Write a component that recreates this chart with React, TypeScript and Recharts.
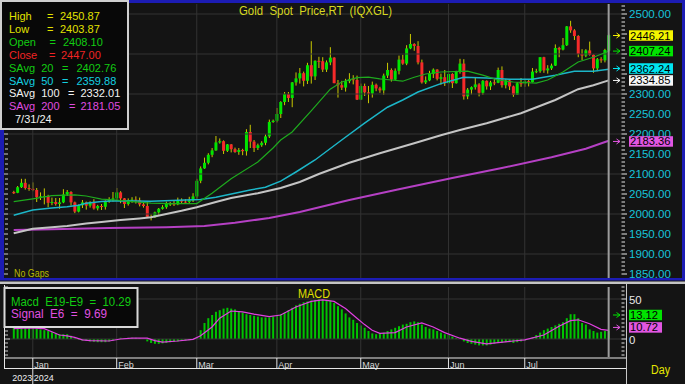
import React from 'react';
import { ComposedChart, Bar, Line, XAxis, YAxis, ReferenceLine, ReferenceDot } from 'recharts';

// trading days shown per month (tail of Dec 2023, then Jan..Jul 2024)
const months = ['Dec', 'Jan', 'Feb', 'Mar', 'Apr', 'May', 'Jun', 'Jul'];
const barsPerMonth = [5, 22, 21, 21, 22, 23, 20, 23];

const open = [
  2055, 2053, 2067, 2078, 2065,
  2063, 2060, 2042, 2044, 2045, 2028, 2030, 2025, 2029, 2049, 2055, 2029, 2006, 2022, 2029, 2021, 2029, 2014, 2020, 2018, 2032, 2037,
  2039, 2054, 2039, 2025, 2035, 2036, 2034, 2024, 2020, 1993, 1992, 2004, 2013, 2017, 2025, 2026, 2024, 2035, 2031, 2030, 2034,
  2044, 2083, 2114, 2128, 2148, 2159, 2179, 2182, 2158, 2174, 2162, 2155, 2160, 2157, 2205, 2181, 2165, 2172, 2178, 2194, 2230,
  2233, 2250, 2280, 2300, 2290, 2329, 2339, 2352, 2333, 2372, 2344, 2383, 2382, 2361, 2379, 2391, 2327, 2322, 2316, 2332, 2337, 2335,
  2286, 2320, 2304, 2301, 2323, 2314, 2309, 2346, 2360, 2336, 2358, 2386, 2376, 2414, 2425, 2420, 2379, 2329, 2334, 2350, 2361, 2338, 2342,
  2327, 2350, 2327, 2355, 2376, 2294, 2311, 2317, 2324, 2303, 2333, 2319, 2329, 2328, 2360, 2322, 2334, 2319, 2298, 2327,
  2326, 2332, 2330, 2356, 2357, 2392, 2359, 2364, 2371, 2415, 2411, 2422, 2469, 2459, 2445, 2400, 2396, 2409, 2398, 2364, 2387, 2384, 2408.1,
];
const high = [
  2058, 2070, 2088, 2088, 2074,
  2079, 2065, 2054, 2064, 2048, 2041, 2040, 2040, 2062, 2060, 2057, 2031, 2024, 2035, 2031, 2032, 2037, 2023, 2025, 2034, 2042, 2055,
  2065, 2057, 2040, 2039, 2042, 2044, 2041, 2030, 2031, 1999, 2006, 2015, 2022, 2031, 2030, 2035, 2041, 2039, 2037, 2043, 2052,
  2088, 2119, 2141, 2152, 2165, 2195, 2189, 2184, 2175, 2175, 2166, 2165, 2163, 2212, 2223, 2185, 2176, 2182, 2199, 2236, 2236,
  2265, 2282, 2305, 2305, 2330, 2354, 2365, 2356, 2378, 2432, 2384, 2393, 2392, 2384, 2417, 2392, 2335, 2333, 2338, 2352, 2347, 2346,
  2326, 2326, 2320, 2331, 2326, 2318, 2351, 2378, 2364, 2364, 2396, 2398, 2422, 2450, 2427, 2432, 2386, 2344, 2358, 2364, 2362, 2351, 2360,
  2354, 2352, 2358, 2388, 2387, 2315, 2319, 2342, 2327, 2335, 2334, 2333, 2337, 2366, 2369, 2337, 2335, 2321, 2330, 2340,
  2338, 2335, 2365, 2363, 2392, 2393, 2372, 2376, 2424, 2418, 2440, 2470, 2483, 2462, 2447, 2412, 2412, 2431, 2399, 2390, 2392, 2413, 2450.87,
];
const low = [
  2050, 2052, 2065, 2061, 2058,
  2057, 2030, 2035, 2024, 2017, 2022, 2021, 2013, 2027, 2045, 2021, 2002, 2004, 2015, 2011, 2016, 2011, 2009, 2010, 2011, 2028, 2031,
  2035, 2027, 2015, 2021, 2028, 2026, 2019, 2016, 1990, 1984, 1990, 1995, 2011, 2013, 2020, 2020, 2022, 2025, 2025, 2026, 2030,
  2038, 2077, 2113, 2124, 2142, 2158, 2176, 2150, 2155, 2154, 2153, 2148, 2147, 2146, 2165, 2155, 2160, 2168, 2172, 2190, 2228,
  2229, 2240, 2272, 2280, 2267, 2321, 2326, 2319, 2325, 2326, 2335, 2365, 2355, 2355, 2372, 2327, 2291, 2310, 2306, 2327, 2324, 2285,
  2285, 2295, 2277, 2291, 2307, 2303, 2298, 2340, 2331, 2335, 2349, 2373, 2372, 2412, 2408, 2374, 2326, 2325, 2332, 2340, 2334, 2323, 2320,
  2314, 2315, 2326, 2351, 2286, 2287, 2299, 2311, 2294, 2298, 2311, 2310, 2322, 2327, 2316, 2314, 2310, 2293, 2298, 2318,
  2318, 2319, 2329, 2352, 2353, 2353, 2351, 2360, 2370, 2392, 2409, 2420, 2453, 2435, 2392, 2385, 2392, 2396, 2353, 2357, 2378, 2379, 2403.87,
];
const close = [
  2052, 2067, 2078, 2065, 2063,
  2060, 2042, 2044, 2045, 2028, 2030, 2025, 2029, 2049, 2055, 2029, 2006, 2022, 2029, 2021, 2029, 2014, 2020, 2018, 2032, 2037, 2039,
  2054, 2039, 2025, 2035, 2036, 2034, 2024, 2020, 1993, 1992, 2004, 2013, 2017, 2025, 2026, 2024, 2035, 2031, 2030, 2034, 2044,
  2083, 2114, 2128, 2148, 2159, 2179, 2182, 2158, 2174, 2162, 2155, 2160, 2157, 2205, 2181, 2165, 2172, 2178, 2194, 2230, 2233,
  2250, 2280, 2300, 2290, 2329, 2339, 2352, 2333, 2372, 2344, 2383, 2382, 2361, 2379, 2391, 2327, 2322, 2316, 2332, 2337, 2335, 2286,
  2320, 2304, 2301, 2323, 2314, 2309, 2346, 2360, 2336, 2358, 2386, 2376, 2414, 2425, 2420, 2379, 2329, 2334, 2350, 2361, 2338, 2342, 2327,
  2350, 2327, 2355, 2376, 2294, 2311, 2317, 2324, 2303, 2333, 2319, 2329, 2328, 2360, 2322, 2334, 2319, 2298, 2327, 2326,
  2332, 2330, 2356, 2357, 2392, 2359, 2364, 2371, 2415, 2411, 2422, 2469, 2459, 2445, 2400, 2396, 2409, 2398, 2364, 2387, 2384, 2410, 2447,
];

// moving averages as [bar, value]
const sma20: [number, number][] = [
  [0, 2031], [5, 2038], [10, 2046], [16, 2048], [19, 2045], [23, 2037], [27, 2035], [31, 2031], [36, 2027], [41, 2026],
  [48, 2026], [52, 2052], [57, 2088], [64, 2130], [68, 2165], [70, 2185], [73, 2205], [78, 2258], [83, 2312], [86, 2330],
  [90, 2341], [93, 2342], [96, 2338], [99, 2335], [102, 2332], [105, 2342], [108, 2350], [112, 2355], [119, 2357], [123, 2347],
  [127, 2335], [131, 2330], [137, 2327], [140, 2335], [144, 2355], [148, 2380], [152, 2392], [156, 2407],
];
const sma50: [number, number][] = [
  [0, 1997], [5, 2010], [10, 2015], [14, 2018], [17, 2022], [19, 2027], [23, 2031], [27, 2033], [36, 2032], [45, 2035],
  [49, 2036], [53, 2042], [58, 2052], [62, 2060], [66, 2067], [70, 2082], [74, 2105], [79, 2135], [86, 2185], [92, 2227],
  [98, 2267], [102, 2285], [106, 2305], [112, 2326], [118, 2342], [124, 2340], [130, 2337], [136, 2337], [142, 2347],
  [147, 2357], [152, 2357], [156, 2362],
];
const sma100: [number, number][] = [
  [0, 1952], [5, 1963], [10, 1967], [14, 1970], [19, 1976], [23, 1980], [28, 1985], [33, 1989], [36, 1992], [40, 2000],
  [44, 2008], [48, 2017], [53, 2030], [57, 2040], [64, 2052], [70, 2065], [75, 2080], [80, 2100], [88, 2128], [96, 2152],
  [105, 2177], [112, 2197], [117, 2210], [124, 2227], [133, 2252], [142, 2285], [148, 2312], [152, 2322], [156, 2334],
];
const sma200: [number, number][] = [
  [0, 1960], [10, 1962], [25, 1965], [40, 1967], [50, 1970], [58, 1978], [67, 1990], [75, 2005], [88, 2035], [101, 2062],
  [115, 2090], [128, 2115], [141, 2142], [150, 2163], [156, 2183],
];

const macd = [
  14, 14.5, 15, 15.5, 15, 14.5, 13, 12, 11,
  10, 8.5, 7, 6, 6, 6, 4, 1, -1,
  -2, -2.5, -3, -3.5, -4, -4, -4, -3, -2, 0,
  1.5, 1, 1.5, 1.5, 1.5, 1, 0, -3,
  -5, -6, -6, -5.5, -5, -4, -3.5, -3, -2.5, -2, -1.5, -1, 2,
  11, 20, 26, 30, 34, 36, 38, 39, 38,
  37, 35, 33, 31, 30, 29, 28, 27, 27, 27, 28, 29, 31,
  33, 36, 39, 42, 44, 46, 47, 48, 49, 50, 50, 49, 48,
  45, 41, 37, 32, 27, 24, 20, 17, 14, 10, 7, 6, 7, 8,
  10, 12, 14, 16, 18, 19, 21, 22, 21, 18,
  15, 13, 12, 10, 8, 6, 5, 3, 1, 0,
  -3, -5, -6, -7, -8, -8, -8, -7, -6, -5, -5, -4, -4, -5, -4, -3, -2,
  0, 2, 5, 8, 11, 13, 15, 17, 19, 21, 26, 31, 31, 26, 20, 18, 12, 10, 8, 9, 10, 10.3,
];
const signal: [number, number][] = [
  [0, 13], [4, 14], [8, 13], [10, 9], [12, 5], [14, 4], [16, 2], [18, -1], [20, -2], [25, -2.5], [28, 0], [31, 1], [35, 1],
  [37, -2], [39, -4], [43, -2.5], [47, -0.5], [49, 4], [52, 15], [54, 26], [57, 35], [60, 34], [63, 31], [67, 28], [70, 30],
  [74, 40], [78, 47], [81, 49], [84, 47], [87, 38], [90, 26], [92, 18], [94, 11], [96, 7], [100, 8], [103, 15], [107, 20],
  [110, 15], [113, 8], [117, 1], [120, -3], [124, -6], [127, -4.5], [131, -2.5], [134, -1], [139, 5], [143, 16], [146, 23],
  [148, 24], [151, 19], [154, 12], [156, 10.7],
];

const priceLabels = [1850, 1900, 1950, 2000, 2050, 2100, 2150, 2200, 2250, 2300, 2350, 2400, 2450, 2500];
const coveredLabels = [2350, 2400, 2450];
const gridPrices = [1900, 2000, 2100, 2200, 2300, 2400, 2500];
const lastTags = [2446.21, 2407.24, 2362.24, 2334.85, 2183.36];
const lastTagColors = ['#f4f400', '#00e400', '#00e4f0', '#f6f6f6', '#e256e2'];
const lastTagShift = [0, 0, -0.6, 0.4, 0.8];
const macdTags = [13.12, 10.72];
const macdTagColors = ['#00e400', '#e256e2'];
const macdTagShift = [-13.5, -3];

const readoutNames = ['High', 'Low', 'Open', 'Close', 'SAvg  20', 'SAvg  50', 'SAvg  100', 'SAvg  200'];
const readoutValues = [2450.87, 2403.87, 2408.1, 2447.0, 2402.76, 2359.88, 2332.01, 2181.05];
const readoutDate = '7/31/24';
const readoutColors = ['#e2e200', '#e2e200', '#12cc12', '#f02424', '#12cc12', '#14cfe0', '#f2f2f2', '#e04ce0'];
const readoutEqX = [47, 47, 49.5, 49, 62, 62, 68, 69];
const readoutValX = [60, 60, 63, 61, 76.5, 76.5, 80.5, 80.5];
const macdReadout = ['Macd  E19-E9  =  10.29', 'Signal  E6  =  9.69'];

// ---- build rows (one empty slot before, three after) ----
const rows: any[] = [{ key: 'pad-a' }];
const monthStarts: { key: string; label: string }[] = [];
let n = 0;
months.forEach((m, mi) => {
  for (let d = 0; d < barsPerMonth[mi]; d++) {
    const key = `${m}-${d}`;
    if (d === 0 && mi > 0) monthStarts.push({ key, label: m });
    rows.push({
      key, open: open[n], high: high[n], low: low[n], close: close[n],
      range: [low[n], high[n]], macd: macd[n],
    });
    n++;
  }
});
rows.push({ key: 'pad-b' }, { key: 'pad-c' }, { key: 'pad-d' });
const put = (pts: [number, number][], name: string) => pts.forEach(([i, v]) => { rows[i + 1][name] = v; });
put(sma20, 'sma20');
put(sma50, 'sma50');
put(sma100, 'sma100');
put(sma200, 'sma200');
put(signal, 'signal');
const lastKey = rows[n].key;

const minorPrice: number[] = [];
for (let v = 1850; v <= 2520; v += 10) minorPrice.push(v);
const leftPrice: number[] = [];
for (let v = 1850; v <= 2525; v += 12.5) leftPrice.push(v);
const macdTicks: number[] = [];
for (let v = -20; v <= 65; v += 5) macdTicks.push(v);

const FONT = "'Liberation Sans', Arial, sans-serif";
const PRICE_DOMAIN: [number, number] = [1840, 2525];
const MACD_DOMAIN: [number, number] = [-22.5, 65];

const Candle = (p: any) => {
  const d = p.payload;
  if (!d || d.open == null) return <g />;
  const top = Math.min(p.y, p.y + p.height);
  const h = Math.abs(p.height);
  const k = h / (d.high - d.low || 1);
  const cx = p.x + p.width / 2;
  const yo = top + (d.high - d.open) * k;
  const yc = top + (d.high - d.close) * k;
  const up = d.close >= d.open;
  return (
    <g>
      <line x1={cx} x2={cx} y1={top} y2={top + h} stroke="#c9c900" />
      <rect x={cx - 1.5} y={Math.min(yo, yc)} width={3} height={Math.max(1, Math.abs(yc - yo))}
        fill={up ? '#00e600' : '#f52a2a'} />
    </g>
  );
};

const PriceTick = (p: any) => {
  const v = p.payload.value;
  const major = v % 50 === 0;
  return (
    <g>
      <line x1={621.5} x2={major ? 627 : 625} y1={p.y} y2={p.y} stroke="#e6e6e6" />
      {major && priceLabels.includes(v) && !coveredLabels.includes(v) && (
        <text x={629} y={p.y + 4.2} fill="#17c3d9" fontSize={11.6} fontFamily={FONT}>{v.toFixed(2)}</text>
      )}
    </g>
  );
};

const LeftTick = (p: any) => {
  const major = p.payload.value % 50 === 0;
  return <line x1={major ? 4 : 5} x2={8} y1={p.y} y2={p.y} stroke="#d0d0d0" />;
};

const MacdTick = (p: any) => {
  const v = p.payload.value;
  const lab = v === 0 || v === 50;
  return (
    <g>
      <line x1={621.5} x2={lab ? 626 : 624.5} y1={p.y} y2={p.y} stroke="#e6e6e6" />
      {lab && <text x={629} y={p.y + 4.6} fontSize={11.4} fill="#e8e8e8" fontFamily={FONT}>{v}</text>}
    </g>
  );
};

const MacdLeftTick = (p: any) => {
  const major = p.payload.value % 25 === 0;
  return <line x1={5} x2={major ? 10 : 8} y1={p.y} y2={p.y} stroke="#d0d0d0" />;
};

const MonthTick = (p: any) => {
  const m = monthStarts.find((s) => s.key === p.payload.value);
  if (!m) return <g />;
  const x = p.x;
  const first = m.label === 'Jan';
  return (
    <g fontFamily={FONT}>
      <line x1={x} x2={x} y1={78} y2={first ? 104 : 88.5} stroke="#e4e4e4" />
      <text x={x + 1.5} y={87.5} fontSize={9} fill="#d6d6d6">{m.label}</text>
      {first && <text x={x - 0.5} y={100.5} fontSize={9} fill="#f0f0f0" textAnchor="end">2023</text>}
      {first && <text x={x + 1} y={100.5} fontSize={9} fill="#f0f0f0">2024</text>}
    </g>
  );
};

const Tag = ({ cy, color, text, w }: any) => (
  <g fontFamily={FONT}>
    <line x1={613} x2={620} y1={cy} y2={cy} stroke={color} />
    <path d={`M616.5,${cy - 2.5} L620,${cy} L616.5,${cy + 2.5}`} fill="none" stroke={color} />
    <rect x={629} y={cy - 5.25} width={w} height={10.5} fill={color} />
    <text x={630} y={cy + 4} fontSize={11.2} fill="#000">{text}</text>
  </g>
);

const MainChart = () => (
  <ComposedChart width={685} height={280} data={rows} margin={{ top: 4, right: 0, bottom: 2, left: 0 }} barCategoryGap={0}>
    <XAxis dataKey="key" hide />
    <YAxis yAxisId="l" orientation="left" width={8} domain={PRICE_DOMAIN} allowDataOverflow ticks={leftPrice}
      interval={0} axisLine={false} tickLine={false} tick={<LeftTick />} />
    <YAxis yAxisId="p" orientation="right" width={63} domain={PRICE_DOMAIN} allowDataOverflow ticks={minorPrice}
      interval={0} axisLine={false} tickLine={false} tick={<PriceTick />} />
    {gridPrices.map((v) => <ReferenceLine key={v} yAxisId="p" y={v} stroke="#333" />)}
    {monthStarts.map((m) => <ReferenceLine key={m.key} yAxisId="p" x={m.key} stroke="#333" />)}
    <Line yAxisId="p" type="linear" dataKey="sma200" stroke="#b540c4" strokeWidth={2} dot={false} connectNulls isAnimationActive={false} />
    <Line yAxisId="p" type="linear" dataKey="sma100" stroke="#c4c4c4" strokeWidth={2} dot={false} connectNulls isAnimationActive={false} />
    <Line yAxisId="p" type="linear" dataKey="sma50" stroke="#1cb6c8" strokeWidth={1.5} dot={false} connectNulls isAnimationActive={false} />
    <Line yAxisId="p" type="linear" dataKey="sma20" stroke="#1eaa1e" strokeWidth={1.2} dot={false} connectNulls isAnimationActive={false} />
    <Bar yAxisId="p" dataKey="range" shape={(p: any) => <Candle {...p} />} isAnimationActive={false} />
    <ReferenceLine yAxisId="p" x={lastKey} stroke="#9c9c9c" strokeWidth={2} />
  </ComposedChart>
);

// last-value tags, on a layer of their own so they sit above the axis labels
const MainTags = () => (
  <ComposedChart width={685} height={280} data={rows} margin={{ top: 4, right: 63, bottom: 2, left: 8 }} barCategoryGap={0}>
    <XAxis dataKey="key" hide />
    <YAxis yAxisId="p" hide domain={PRICE_DOMAIN} allowDataOverflow />
    {lastTags.map((v, i) => (
      <ReferenceDot key={v} yAxisId="p" x={lastKey} y={v} r={0} ifOverflow="visible"
        shape={(p: any) => <Tag cy={p.cy + lastTagShift[i]} color={lastTagColors[i]} text={v.toFixed(2)} w={44} />} />
    ))}
  </ComposedChart>
);

const MacdChart = () => (
  <ComposedChart width={685} height={104} data={rows} margin={{ top: 7, right: 0, bottom: 0, left: 0 }} barCategoryGap={0}>
    <XAxis dataKey="key" ticks={monthStarts.map((m) => m.key)} interval={0} height={27}
      axisLine={false} tickLine={false} tick={<MonthTick />} />
    <YAxis yAxisId="l" orientation="left" width={8} domain={MACD_DOMAIN} allowDataOverflow ticks={macdTicks}
      interval={0} axisLine={false} tickLine={false} tick={<MacdLeftTick />} />
    <YAxis yAxisId="m" orientation="right" width={63} domain={MACD_DOMAIN} allowDataOverflow ticks={macdTicks}
      interval={0} axisLine={false} tickLine={false} tick={<MacdTick />} />
    <ReferenceLine yAxisId="m" y={0} stroke="#333" />
    <ReferenceLine yAxisId="m" y={50} stroke="#333" />
    {monthStarts.map((m) => <ReferenceLine key={m.key} yAxisId="m" x={m.key} stroke="#333" />)}
    <Bar yAxisId="m" dataKey="macd" barSize={2} fill="#00c400" isAnimationActive={false} />
    <Line yAxisId="m" type="linear" dataKey="signal" stroke="#e040e0" strokeWidth={1.2} dot={false} connectNulls isAnimationActive={false} />
    <ReferenceLine yAxisId="m" x={lastKey} stroke="#9c9c9c" strokeWidth={2} />
  </ComposedChart>
);

const MacdTags = () => (
  <ComposedChart width={685} height={104} data={rows} margin={{ top: 7, right: 63, bottom: 27, left: 8 }} barCategoryGap={0}>
    <XAxis dataKey="key" hide />
    <YAxis yAxisId="m" hide domain={MACD_DOMAIN} allowDataOverflow />
    {macdTags.map((v, i) => (
      <ReferenceDot key={v} yAxisId="m" x={lastKey} y={v} r={0} ifOverflow="visible"
        shape={(p: any) => <Tag cy={p.cy + macdTagShift[i]} color={macdTagColors[i]} text={v.toFixed(2)} w={33} />} />
    ))}
  </ComposedChart>
);

const layer: React.CSSProperties = { position: 'absolute', left: 0 };

export default function App() {
  return (
    <div style={{ position: 'fixed', left: 0, top: 0, width: 685, height: 384, background: '#141414', overflow: 'hidden' }}>
      <div style={{ ...layer, top: 0 }}><MainChart /></div>
      <div style={{ ...layer, top: 0 }}><MainTags /></div>
      <div style={{ ...layer, top: 280 }}><MacdChart /></div>
      <div style={{ ...layer, top: 280 }}><MacdTags /></div>
      <svg width={685} height={384} style={{ position: 'absolute', left: 0, top: 0, pointerEvents: 'none' }} fontFamily={FONT}>
        {/* panel frames */}
        <rect x={0} y={0} width={685} height={3} fill="#1c1cb4" />
        <rect x={0} y={0} width={4} height={280} fill="#1c1cb4" />
        <rect x={682} y={0} width={3} height={280} fill="#1c1cb4" />
        <rect x={0} y={278} width={685} height={2.5} fill="#1c1cb4" />
        <rect x={0} y={281.5} width={685} height={2.5} fill="#c4c4c4" />
        <line x1={4.5} x2={4.5} y1={285} y2={369} stroke="#e8e8e8" />
        <line x1={4.5} x2={626.5} y1={358} y2={358} stroke="#e8e8e8" />
        <line x1={4.5} x2={626.5} y1={368.5} y2={368.5} stroke="#e8e8e8" />
        <line x1={626.5} x2={626.5} y1={284} y2={384} stroke="#c8c8c8" />

        {/* price readout */}
        <rect x={1} y={1} width={127} height={128} fill="#080808" stroke="#cfcfcf" strokeWidth={2} />
        {readoutNames.map((name, i) => {
          const by = 20 + i * 12.9;
          return (
            <g key={name} fontSize={11} fill={readoutColors[i]}>
              <text x={9} y={by} style={{ whiteSpace: 'pre' }}>{name}</text>
              <text x={readoutEqX[i]} y={by}>=</text>
              <text x={readoutValX[i]} y={by}>{readoutValues[i].toFixed(2)}</text>
            </g>
          );
        })}
        <text x={15} y={123.3} fontSize={11} fill="#f2f2f2">{readoutDate}</text>

        <text x={239} y={15} fontSize={12.5} fill="#d8d820" textLength={153} lengthAdjust="spacingAndGlyphs"
          style={{ whiteSpace: 'pre' }}>Gold  Spot  Price,RT  (IQXGL)</text>
        <text x={14} y={277} fontSize={10} fill="#b8b800" textLength={35} lengthAdjust="spacingAndGlyphs">No Gaps</text>

        {/* MACD readout */}
        <rect x={4.5} y={288} width={133} height={39} fill="#080808" stroke="#d8d8d8" strokeWidth={2} />
        <text x={11} y={305.7} fontSize={12.5} fill="#12cc12" textLength={120} lengthAdjust="spacingAndGlyphs"
          style={{ whiteSpace: 'pre' }}>{macdReadout[0]}</text>
        <text x={11} y={318.3} fontSize={12.5} fill="#e050e0" textLength={96} lengthAdjust="spacingAndGlyphs"
          style={{ whiteSpace: 'pre' }}>{macdReadout[1]}</text>
        <text x={298} y={298} fontSize={12} fill="#e0e000" textLength={32} lengthAdjust="spacingAndGlyphs">MACD</text>
        <text x={651} y={374} fontSize={12.5} fill="#e8e800" textLength={19} lengthAdjust="spacingAndGlyphs">Day</text>
      </svg>
    </div>
  );
}
